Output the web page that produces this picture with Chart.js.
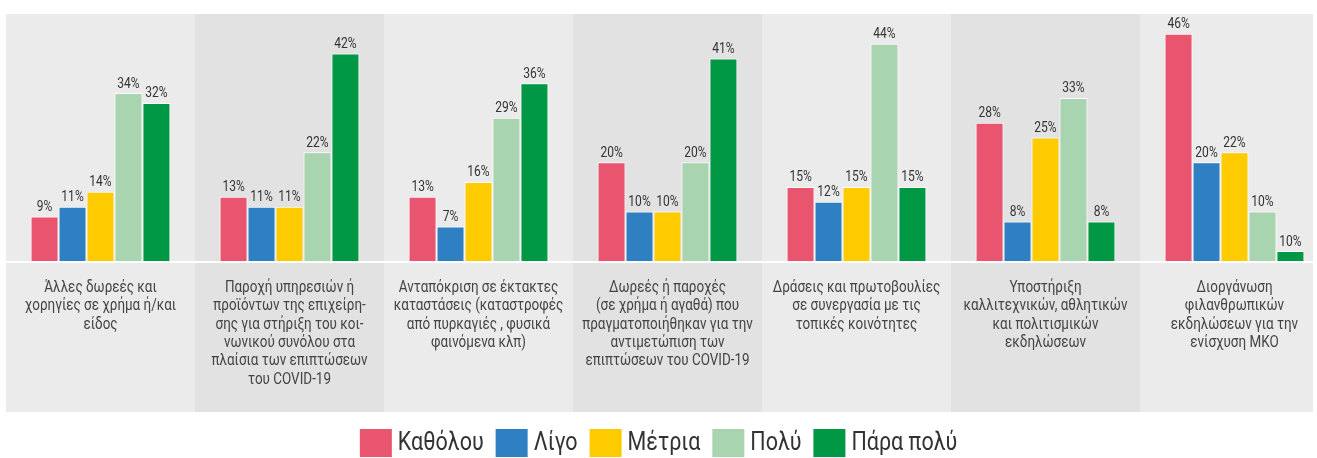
<!DOCTYPE html>
<html>
<head>
<meta charset="utf-8">
<script src="https://cdn.jsdelivr.net/npm/chart.js@4"></script>
<style>
  html, body { margin: 0; padding: 0; overflow: hidden; background: #fff; }
  #wrap { width: 1330px; height: 458px; position: relative; }
</style>
</head>
<body>
<div id="wrap"><canvas id="myChart"></canvas></div>
<script>
const CATEGORIES = [
    ["Άλλες δωρεές και", "χορηγίες σε χρήμα ή/και", "είδος"],
    ["Παροχή υπηρεσιών ή", "προϊόντων της επιχείρη-", "σης για στήριξη του κοι-", "νωνικού συνόλου στα", "πλαίσια των επιπτώσεων", "του COVID-19"],
    ["Ανταπόκριση σε έκτακτες", "καταστάσεις (καταστροφές", "από πυρκαγιές , φυσικά", "φαινόμενα κλπ)"],
    ["Δωρεές ή παροχές", "(σε χρήμα ή αγαθά) που", "πραγματοποιήθηκαν για την", "αντιμετώπιση των", "επιπτώσεων του COVID-19"],
    ["Δράσεις και πρωτοβουλίες", "σε συνεργασία με τις", "τοπικές κοινότητες"],
    ["Υποστήριξη", "καλλιτεχνικών, αθλητικών", "και πολιτισμικών", "εκδηλώσεων"],
    ["Διοργάνωση", "φιλανθρωπικών", "εκδηλώσεων για την", "ενίσχυση ΜΚΟ"]
];

const SERIES = ["Καθόλου", "Λίγο", "Μέτρια", "Πολύ", "Πάρα πολύ"];

const katholou = [9, 13, 13, 20, 15, 28, 46];
const ligo     = [11, 11, 7, 10, 12, 8, 20];
const metria   = [14, 11, 16, 10, 15, 25, 22];
const poly     = [34, 22, 29, 20, 44, 33, 10];
const paraPoly = [32, 42, 36, 41, 15, 8, 2];
// printed labels for "Πάρα πολύ" (the last bar is drawn short but labelled 10%)
const paraPolyShown = [32, 42, 36, 41, 15, 8, 10];

const COLORS = ["#E9546F", "#2E80C2", "#FECB00", "#A9D4B0", "#009845"];

const FONT = "Roboto, 'Noto Sans', sans-serif";
const SQUEEZE = 0.84; // the original font is a condensed one

// draw text narrowed horizontally
function narrowText(c, str, x, y, k) {
    c.save();
    c.translate(x, y);
    c.scale(k, 1);
    c.fillText(str, 0, 0);
    c.restore();
}

const bands = {
    id: 'bands',
    beforeDraw(chart) {
        const c = chart.ctx, x = chart.scales.x, area = chart.chartArea;
        const w = x.getPixelForValue(1) - x.getPixelForValue(0);
        c.save();
        CATEGORIES.forEach((_, i) => {
            const left = x.getPixelForValue(i) - w / 2;
            const right = Math.min(left + w, 1313);
            c.fillStyle = i % 2 ? '#E2E2E2' : '#EAEBEA';
            c.fillRect(left, area.top, right - left, 412 - area.top);
        });
        // white base line
        c.fillStyle = '#fff';
        c.fillRect(area.left, area.bottom, 1313 - area.left, 2);

        // category labels
        c.font = '16px ' + FONT;
        c.fillStyle = '#444';
        c.textAlign = 'center';
        c.textBaseline = 'middle';
        CATEGORIES.forEach((lines, i) => {
            const cx = x.getPixelForValue(i);
            lines.forEach((ln, k) => narrowText(c, ln, cx, area.bottom + 27 + k * 18.3, SQUEEZE));
        });
        c.restore();
    }
};

const valueLabels = {
    id: 'valueLabels',
    afterDatasetsDraw(chart) {
        const c = chart.ctx;
        c.save();
        c.font = '14px ' + FONT;
        c.fillStyle = '#333';
        c.textAlign = 'center';
        c.textBaseline = 'bottom';
        chart.data.datasets.forEach((ds, di) => {
            chart.getDatasetMeta(di).data.forEach((bar, i) => {
                const v = ds.shown ? ds.shown[i] : ds.data[i];
                narrowText(c, v + '%', bar.x, bar.y - 2, 0.86);
            });
        });
        c.restore();
    }
};

// legend drawn by hand: square-ish boxes, tight gaps, condensed text
const boxLegend = {
    id: 'boxLegend',
    afterDraw(chart) {
        const c = chart.ctx;
        const k = 0.86, boxW = 32, boxH = 28, gap = 6, itemGap = 12, cy = 443;
        c.save();
        c.font = '25px ' + FONT;
        c.textBaseline = 'middle';
        c.textAlign = 'left';
        const widths = SERIES.map(s => c.measureText(s).width * k);
        const total = widths.reduce((a, b) => a + b, 0) + SERIES.length * (boxW + gap) + (SERIES.length - 1) * itemGap;
        let xPos = 658.5 - total / 2;
        SERIES.forEach((s, i) => {
            c.fillStyle = COLORS[i];
            c.fillRect(xPos, cy - boxH / 2, boxW, boxH);
            xPos += boxW + gap;
            c.fillStyle = '#333';
            narrowText(c, s, xPos, cy + 1, k);
            xPos += widths[i] + itemGap;
        });
        c.restore();
    }
};

const ctx = document.querySelector('#myChart');

new Chart(ctx, {
    type: 'bar',
    data: {
        labels: CATEGORIES,
        datasets: [
            { label: SERIES[0], data: katholou, backgroundColor: COLORS[0] },
            { label: SERIES[1], data: ligo, backgroundColor: COLORS[1] },
            { label: SERIES[2], data: metria, backgroundColor: COLORS[2] },
            { label: SERIES[3], data: poly, backgroundColor: COLORS[3] },
            { label: SERIES[4], data: paraPoly, shown: paraPolyShown, backgroundColor: COLORS[4] }
        ]
    },
    options: {
        responsive: true,
        maintainAspectRatio: false,
        animation: false,
        layout: { padding: { top: 14, left: 6, right: 1, bottom: 46 } },
        datasets: {
            bar: {
                categoryPercentage: 0.74,
                barPercentage: 1,
                borderColor: '#fff',
                borderWidth: 1
            }
        },
        scales: {
            x: {
                grid: { display: false },
                border: { display: false },
                ticks: { display: false },
                afterFit(scale) { scale.height = 151; }
            },
            y: {
                display: false,
                min: 0,
                max: 50
            }
        },
        plugins: {
            tooltip: { enabled: false },
            legend: { display: false }
        }
    },
    plugins: [bands, valueLabels, boxLegend]
});
</script>
</body>
</html>
